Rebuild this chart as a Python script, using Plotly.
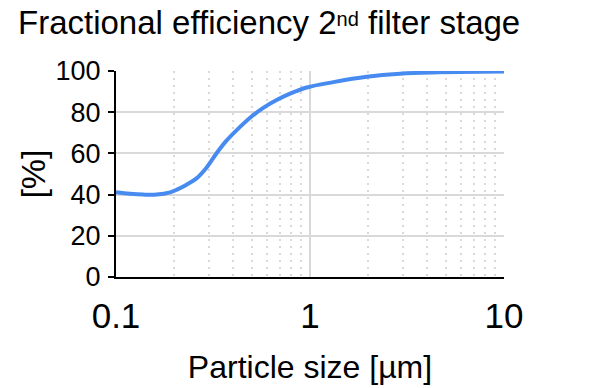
import plotly.graph_objects as go

# Data
particle_size_um = [0.1, 0.118, 0.138, 0.162, 0.19, 0.206, 0.231, 0.261, 0.294, 0.33, 0.372,
                    0.419, 0.491, 0.574, 0.673, 0.789, 0.962, 1.32, 1.96, 2.91, 4.32, 10.0]
efficiency_pct = [41.1, 40.4, 40.0, 40.0, 41.1, 42.4, 44.8, 48.0, 53.3, 60.1, 66.3,
                  71.3, 77.3, 82.1, 85.9, 89.0, 92.0, 94.6, 97.2, 98.7, 99.3, 99.7]

x_tick_vals = [0.1, 1, 10]
x_tick_text = ["0.1", "1", "10"]
y_tick_vals = [0, 20, 40, 60, 80, 100]

FONT = "Liberation Sans, Arial, sans-serif"
GRID = "#d9d9d9"

fig = go.Figure()
fig.add_trace(go.Scatter(
    x=particle_size_um, y=efficiency_pct, mode="lines",
    line=dict(color="rgb(72,139,240)", width=4, shape="spline", smoothing=1.0),
    hoverinfo="skip", showlegend=False,
))

W, H = 584, 380  # page body adds an 8px offset in the 592x388 window

fig.update_layout(
    width=W, height=H,
    margin=dict(l=108, r=88, t=63, b=111, autoexpand=False),
    paper_bgcolor="white", plot_bgcolor="white",
    font=dict(family=FONT, color="black"),
    title=dict(
        text='Fractional efficiency 2<span style="font-size:20px;baseline-shift:8px">nd</span> filter stage',
        font=dict(size=33, family=FONT, color="black"),
        xref="container", x=10 / W, xanchor="left",
        yref="container", y=1 - 3 / H, yanchor="top",
    ),
    xaxis=dict(
        type="log", range=[-1, 1],
        tickvals=x_tick_vals, ticktext=x_tick_text,
        tickfont=dict(size=35, family=FONT, color="black"),
        ticks="", ticklabelstandoff=7,
        showline=True, linecolor="black", linewidth=2,
        showgrid=True, gridcolor=GRID, gridwidth=2,
        minor=dict(dtick="D1", showgrid=True, gridcolor=GRID, gridwidth=2,
                   griddash="2px,5px", ticks=""),
        zeroline=False,
        title=dict(text="Particle size [µm]", font=dict(size=32, family=FONT, color="black"),
                   standoff=22),
        automargin=False,
    ),
    yaxis=dict(
        range=[0, 100], tickvals=y_tick_vals,
        tickfont=dict(size=27, family=FONT, color="black"),
        ticks="outside", ticklen=6, tickwidth=2, tickcolor="black",
        ticklabelstandoff=2,
        showline=True, linecolor="black", linewidth=2,
        showgrid=True, gridcolor=GRID, gridwidth=2,
        zeroline=False,
        title=dict(text="[%]", font=dict(size=34, family=FONT, color="black"), standoff=0),
        automargin=False,
    ),
)

fig.write_html("out.html")
